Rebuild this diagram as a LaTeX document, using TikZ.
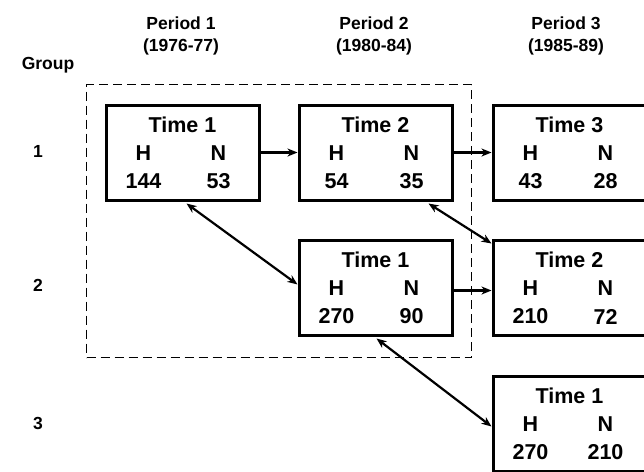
\documentclass[tikz,border=0pt]{standalone}
\usepackage{fontspec}
\setmainfont{Liberation Sans}
\usetikzlibrary{arrows.meta,calc}
\begin{document}
\begin{tikzpicture}[x=1pt,y=-1pt,
  box/.style={draw=black,line width=3pt,minimum width=153pt,minimum height=95pt,inner sep=0pt,anchor=north west},
  lbl/.style={font=\bfseries\fontsize{21.5}{21.5}\selectfont,inner sep=0pt},
  hdr/.style={font=\bfseries\fontsize{17.5}{17.5}\selectfont,inner sep=0pt},
  harrow/.style={line width=3pt,-{Stealth[length=10pt,width=8pt,inset=3pt]}},
  darrow/.style={line width=2.2pt,{Stealth[length=10pt,width=8pt,inset=3pt]}-{Stealth[length=10pt,width=8pt,inset=3pt]}},
  grpbox/.style={draw=black,line width=1.3pt,dash pattern=on 9pt off 5pt,minimum width=385pt,minimum height=273pt,inner sep=0pt,anchor=north west}
]
\begin{scope}
\clip (0,0) rectangle (644,471);
% headers
\node[hdr] (p1) at (181,23) {Period 1};
\node[hdr] (y1) at (181,47) {(1976-77)};
\node[hdr] (p2) at (374,23) {Period 2};
\node[hdr] (y2) at (374,47) {(1980-84)};
\node[hdr] (p3) at (566,23) {Period 3};
\node[hdr] (y3) at (566,47) {(1985-89)};
\node[hdr] (grp) at (48,65) {Group};
\node[hdr] (g1) at (38,151) {1};
\node[hdr] (g2) at (38,285) {2};
\node[hdr] (g3) at (38,423) {3};
% dashed group
\node[grpbox] (dash) at (86,84) {};
% boxes
\newcommand\tboxcontent[4]{%
  \node[lbl] (#1t) at ($(#1.north)+(0,21)$) {#2};
  \node[lbl] (#1h) at ($(#1.north)+(-39,50)$) {H};
  \node[lbl] (#1n) at ($(#1.north)+(36,50)$) {N};
  \node[lbl] (#1a) at ($(#1.north)+(-39,78)$) {#3};
  \node[lbl] (#1b) at ($(#1.north)+(36,78)$) {#4};
}
\node[box] (b11) at (104.5,103.5) {};
\node[box] (b12) at (297.5,103.5) {};
\node[box] (b13) at (491.5,103.5) {};
\node[box] (b22) at (297.5,238.5) {};
\node[box] (b23) at (491.5,238.5) {};
\node[box] (b33) at (491.5,374.5) {};
\tboxcontent{b11}{Time 1}{144}{53}
\tboxcontent{b12}{Time 2}{54}{35}
\tboxcontent{b13}{Time 3}{43}{28}
\tboxcontent{b22}{Time 1}{270}{90}
\tboxcontent{b23}{Time 2}{210}{72}
\tboxcontent{b33}{Time 1}{270}{210}
% arrows
\draw[harrow] (b11.east) -- (b12.west);
\draw[harrow] (b12.east) -- (b13.west);
\draw[harrow] ([yshift=-3pt]b22.east) -- ([yshift=-3pt]b23.west);
\draw[darrow] ([xshift=4pt,yshift=-2pt]b11.south) -- ([yshift=3pt]b22.west);
\draw[darrow] ([xshift=-25pt,yshift=-2pt]b12.south east) -- ([yshift=-5pt]b23.north west);
\draw[darrow] ([xshift=1pt,yshift=-2pt]b22.south) -- ([yshift=-3pt]b33.west);
\end{scope}
\pgfresetboundingbox
\useasboundingbox (0,0) rectangle (644,471);
\end{tikzpicture}
\end{document}
